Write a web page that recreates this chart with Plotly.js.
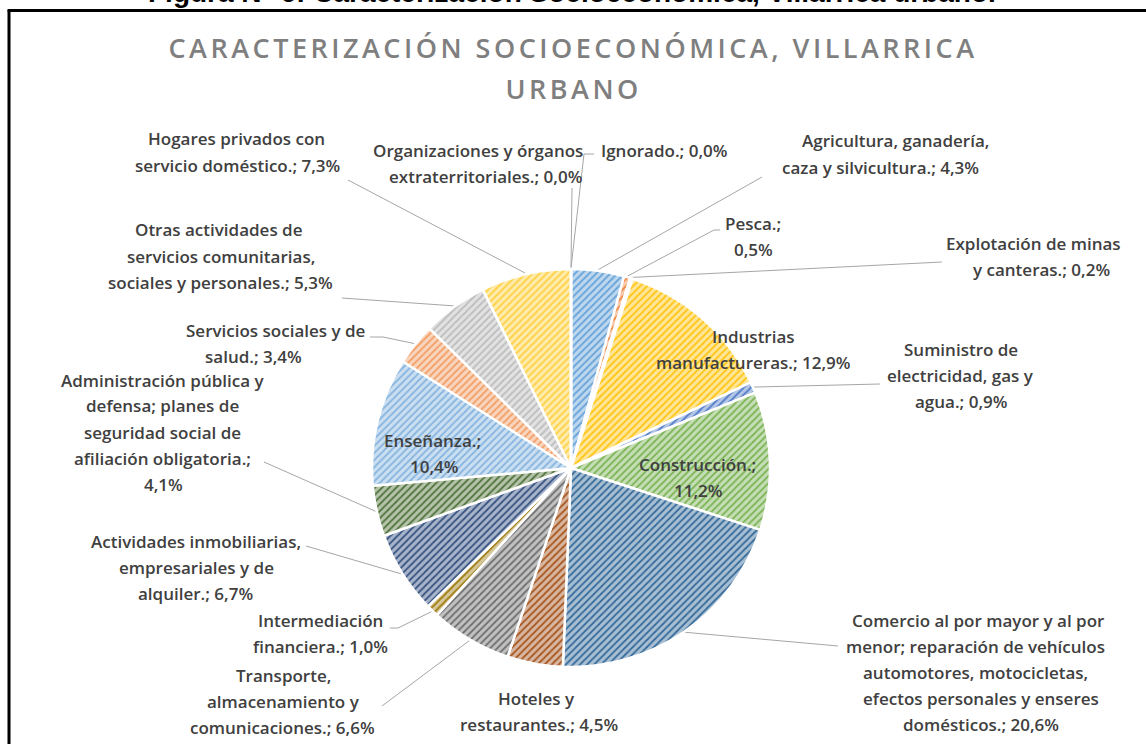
<!DOCTYPE html>
<html>
<head>
<meta charset="utf-8">
<script src="https://cdn.plot.ly/plotly-3.0.1.min.js"></script>
<style>
  html, body { margin: 0; padding: 0; background: #fff; }
  #chart { width: 1146px; height: 744px; }
  #chart .gtitle { letter-spacing: 3.5px; }
  #chart .annotation[data-index="0"] text { letter-spacing: 3.5px; }
</style>
</head>
<body>
<div id="chart"></div>
<script>
// ---------- DATA ----------
const categories = [
  "Agricultura, ganadería, caza y silvicultura.",
  "Pesca.",
  "Explotación de minas y canteras.",
  "Industrias manufactureras.",
  "Suministro de electricidad, gas y agua.",
  "Construcción.",
  "Comercio al por mayor y al por menor; reparación de vehículos automotores, motocicletas, efectos personales y enseres domésticos.",
  "Hoteles y restaurantes.",
  "Transporte, almacenamiento y comunicaciones.",
  "Intermediación financiera.",
  "Actividades inmobiliarias, empresariales y de alquiler.",
  "Administración pública y defensa; planes de seguridad social de afiliación obligatoria.",
  "Enseñanza.",
  "Servicios sociales y de salud.",
  "Otras actividades de servicios comunitarias, sociales y personales.",
  "Hogares privados con servicio doméstico.",
  "Organizaciones y órganos extraterritoriales.",
  "Ignorado."
];
const values = [4.3, 0.5, 0.2, 12.9, 0.9, 11.2, 20.6, 4.5, 6.6, 1.0, 6.7, 4.1, 10.4, 3.4, 5.3, 7.3, 0.0, 0.0];
const titleLine1 = "CARACTERIZACIÓN SOCIOECONÓMICA, VILLARRICA";
const titleLine2 = "URBANO";
const captionText = "Figura N° 6: Caracterización Socioeconómica, Villarrica urbano.";

// ---------- STYLE / LAYOUT ----------
const W = 1146, H = 744;
const CX = 571, CY = 468, R = 199;
const baseColors = ["#5B9BD5","#ED7D31","#A5A5A5","#FFC000","#4472C4","#70AD47",
                    "#255E91","#9E480E","#636363","#997300","#264478","#43682B",
                    "#7CAFDD","#F1975A","#B7B7B7","#FFCD33","#698ED0","#8CC168"];
function mix(hex, t) {
  const n = parseInt(hex.slice(1), 16);
  const r = (n >> 16) & 255, g = (n >> 8) & 255, b = n & 255;
  const f = c => Math.round(c + (255 - c) * t);
  return "rgb(" + f(r) + "," + f(g) + "," + f(b) + ")";
}
const bgColors = baseColors.map(c => mix(c, 0.6));
const fgColors = baseColors.map(c => mix(c, 0.08));

// label layout: words per line, line centre x (px), first line y (px), leader points (label side)
const labelSpec = [
  {words:[2,4], x:[895,880], y:141, lead:[[762,177]]},
  {words:[1,1], x:[753,753], y:224, lead:[[720,230],[714,230]]},
  {words:[3,3], x:[1033,1041], y:243, lead:[[942,262]]},
  {words:[1,2], x:[753,753], y:336},
  {words:[2,3,2], x:[961,960,961], y:349, lead:[[880,384]]},
  {words:[1,1], x:[697,698], y:464},
  {words:[7,4,2,4,2], x:[978,975,975,981,981], y:620, lead:[[838,646]]},
  {words:[2,2], x:[536,539], y:698},
  {words:[1,2,2], x:[283,283,282], y:675, lead:[[382,706]]},
  {words:[1,2], x:[320,320], y:620, lead:[[390,628],[398,628]]},
  {words:[2,3,2], x:[196,196,195], y:541, lead:[[306,546]]},
  {words:[3,3,3,2,1], x:[162,162,162,162,163], y:380, lead:[[264,462]]},
  {words:[1,1], x:[432,434], y:440},
  {words:[4,2], x:[275,253], y:330, lead:[[370,337],[383,337]]},
  {words:[3,2,4], x:[218,221,220], y:230, lead:[[342,298]]},
  {words:[3,3], x:[236,237], y:139, lead:[[348,180]]},
  {words:[3,2], x:[478,485], y:150, lead:[[572,188]]},
  {words:[2], x:[664], y:150, lead:[[594,154],[584,154]]}
];
const LINE_STEP = 26;
const labelFont = {family: "'Open Sans', sans-serif", size: 17, color: "#404040", weight: 600};
const titleFont = {family: "'Open Sans', sans-serif", size: 27, color: "#7F7F7F", weight: 600};

const px = v => v / W;
const py = v => 1 - v / H;

const annotations = [];
const shapes = [];

// second title line (index 0, letter-spaced via CSS)
annotations.push({xref: "paper", yref: "paper", x: 0.5, y: py(88), text: titleLine2,
  showarrow: false, xanchor: "center", yanchor: "middle", font: titleFont});

const total = values.reduce((a, b) => a + b, 0);
let cum = 0;
values.forEach((v, i) => {
  const mid = (cum + v / 2) / total;
  cum += v;
  const pct = v.toFixed(1).replace(".", ",") + "%";
  const words = (categories[i] + "; " + pct).split(" ");
  const spec = labelSpec[i];
  let k = 0;
  spec.words.forEach((n, li) => {
    const line = words.slice(k, k + n).join(" ");
    k += n;
    annotations.push({
      xref: "paper", yref: "paper", x: px(spec.x[li]), y: py(spec.y + li * LINE_STEP),
      text: line, showarrow: false, xanchor: "center", yanchor: "middle", font: labelFont
    });
  });
  if (spec.lead) {
    const ang = mid * 2 * Math.PI;
    const sx = CX + (R + 1) * Math.sin(ang);
    const sy = CY - (R + 1) * Math.cos(ang);
    const pts = spec.lead.concat([[sx, sy]]);
    for (let j = 0; j < pts.length - 1; j++) {
      shapes.push({type: "line", xref: "paper", yref: "paper",
        x0: px(pts[j][0]), y0: py(pts[j][1]), x1: px(pts[j+1][0]), y1: py(pts[j+1][1]),
        line: {color: "#A6A6A6", width: 1}, layer: "below"});
    }
  }
});

// frame and cut caption
shapes.push({type: "line", xref: "paper", yref: "paper", x0: px(9), y0: 0, x1: px(9), y1: py(10.5),
  line: {color: "#000", width: 3}});
shapes.push({type: "line", xref: "paper", yref: "paper", x0: px(7.5), y0: py(10.5), x1: 1.01, y1: py(10.5),
  line: {color: "#000", width: 3}});
annotations.push({xref: "paper", yref: "paper", x: px(572), y: py(-7.5), text: "<b>" + captionText + "</b>",
  showarrow: false, xanchor: "center", yanchor: "middle",
  font: {family: "'Liberation Sans', Arial, sans-serif", size: 28, color: "#000"}});

const trace = {
  type: "pie",
  labels: categories,
  values: values,
  sort: false,
  direction: "clockwise",
  rotation: 0,
  textinfo: "none",
  hoverinfo: "label+percent",
  showlegend: false,
  domain: {x: [px(CX - R), px(CX + R)], y: [py(CY + R), py(CY - R)]},
  marker: {
    colors: bgColors,
    line: {color: "#ffffff", width: 2.5},
    pattern: {shape: "/", fgcolor: fgColors, bgcolor: bgColors, size: 5, solidity: 0.35, fillmode: "replace"}
  }
};

const layout = {
  width: W, height: H,
  margin: {l: 0, r: 0, t: 0, b: 0},
  paper_bgcolor: "#ffffff",
  title: {
    text: titleLine1,
    x: 0.5, xanchor: "center",
    y: py(49), yanchor: "middle", yref: "container",
    font: titleFont
  },
  annotations: annotations,
  shapes: shapes
};

Plotly.newPlot("chart", [trace], layout, {displayModeBar: false, staticPlot: true});
</script>
</body>
</html>
